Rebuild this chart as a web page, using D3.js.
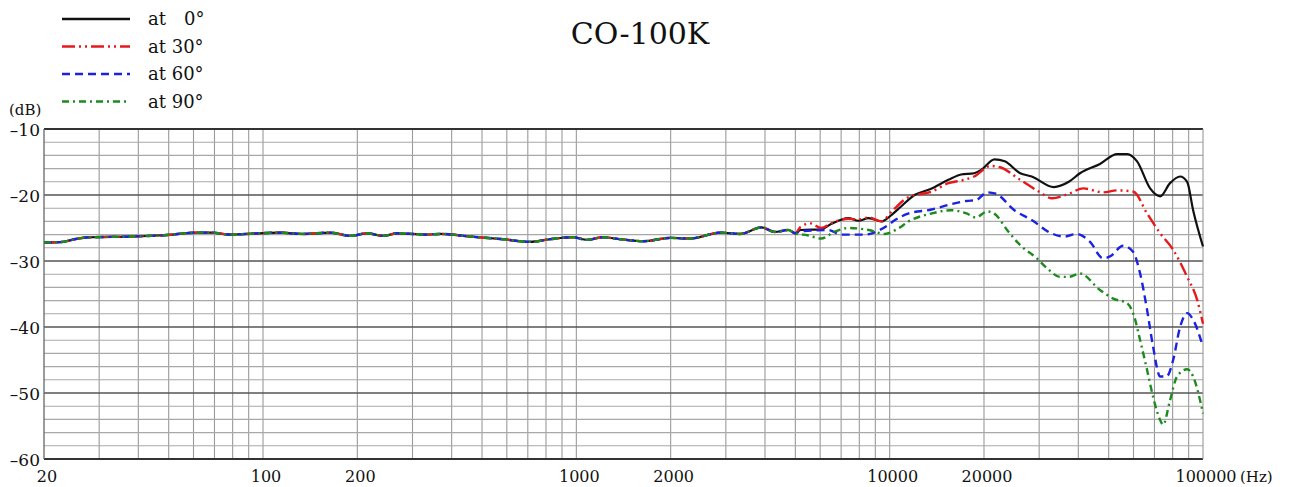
<!DOCTYPE html>
<html lang="en">
<head>
<meta charset="UTF-8">
<title>CO-100K</title>
<script src="https://d3js.org/d3.v7.min.js"></script>
<style>
  html, body { margin: 0; padding: 0; background: #fff; }
  svg text { font-family: "DejaVu Serif", serif; fill: #111; }
</style>
</head>
<body>
<svg id="chart" width="1291" height="487"></svg>
<script>
// shared low-frequency response (all angles overlap here)
const commonFreq = [20, 23, 25, 28, 37, 48, 62, 68, 79, 89, 113, 134, 164, 190, 215, 242, 268, 333, 369, 459,
  583, 712, 824, 977, 1080, 1215, 1380, 1635, 1995, 2310, 2880, 3330, 3900, 4300, 4750, 5000];
const commonDb = [-27.2, -27.1, -26.7, -26.4, -26.3, -26.1, -25.7, -25.7, -26.0, -25.9, -25.7, -25.9, -25.7, -26.2, -25.8, -26.2, -25.8, -26.0, -25.9, -26.3,
  -26.7, -27.1, -26.7, -26.4, -26.8, -26.4, -26.7, -27.0, -26.5, -26.6, -25.7, -25.9, -24.9, -25.6, -25.3, -25.8];

// high-frequency part of each angle
const freq0 = [5200, 6040, 6500, 7380, 7950, 8570, 9420, 10150, 10900, 12000, 13500, 15400, 16900, 18600, 19600, 21600, 23300,
  26100, 28400, 33400, 37300, 40500, 46900, 53200, 57300, 61600, 67800, 73000, 78500, 84500, 89000, 93000, 100000];
const db0 = [-25.3, -25.2, -24.4, -23.5, -23.9, -23.5, -24.0, -23.0, -21.7, -20.0, -19.1, -17.7, -16.9, -16.7, -16.2, -14.6, -14.9,
  -16.7, -17.2, -18.8, -18.0, -16.7, -15.3, -13.8, -13.8, -14.9, -19.0, -20.2, -18.2, -17.2, -18.0, -22.3, -27.8];

const freq30 = [5200, 5600, 6040, 6500, 7380, 7950, 8570, 9420, 10150, 11500, 13600, 15400, 17300, 18600, 21000, 22500,
  26100, 30000, 33000, 37300, 41500, 48000, 53200, 60000, 66300, 73000, 80300, 89000, 95800, 100000];
const db30 = [-24.8, -24.3, -25.0, -24.3, -23.6, -23.7, -23.4, -24.0, -22.5, -20.3, -19.5, -18.2, -17.7, -17.2, -15.6, -15.8,
  -17.7, -19.5, -20.5, -19.8, -19.0, -19.6, -19.3, -19.5, -22.8, -25.8, -28.3, -32.4, -35.9, -39.5];

const freq60 = [5200, 6360, 7000, 8320, 9300, 9920, 10400, 11500, 13600, 15400, 17600, 18800, 20500, 21800, 25000, 28400,
  32800, 36000, 39500, 43600, 48000, 50500, 55600, 59800, 63000, 66300, 69300, 73000, 76500, 80300, 84500, 89000, 93000, 100000];
const db60 = [-25.5, -25.3, -26.0, -26.0, -25.3, -24.5, -23.8, -22.8, -22.2, -21.5, -20.9, -20.8, -19.6, -19.8, -22.3, -23.8,
  -25.8, -26.3, -25.9, -27.1, -29.6, -29.3, -27.7, -28.6, -31.9, -37.4, -43.0, -47.5, -47.5, -45.0, -40.0, -37.9, -38.9, -43.0];

const freq90 = [5470, 6040, 6650, 7380, 8570, 9660, 10700, 11500, 13600, 15700, 17600, 18800, 20500, 21800, 23700, 26100,
  29500, 31800, 35000, 37300, 40500, 46900, 51700, 57300, 60300, 63000, 66300, 69300, 73000, 74600, 78500, 82600, 89000, 93000, 100000];
const db90 = [-26.1, -26.6, -25.6, -25.0, -25.3, -25.9, -25.0, -24.0, -22.8, -22.3, -22.8, -23.4, -22.5, -23.0, -25.3, -27.6,
  -29.6, -31.1, -32.4, -32.4, -31.9, -34.4, -35.7, -36.4, -38.4, -42.0, -46.5, -50.6, -54.1, -54.8, -51.1, -47.5, -46.4, -47.5, -53.1];

const seriesNames = ["at\u2002\u20020°", "at 30°", "at 60°", "at 90°"];
const seriesColors = ["#111111", "#e8191b", "#1b22e0", "#1d8a1d"];
const seriesDash = [null, "13,4,2,4,2,4", "8,5", "7,4,2,4"];

const xTicks = [20, 100, 200, 1000, 2000, 10000, 20000, 100000];
const yTicks = [-10, -20, -30, -40, -50, -60];

const margin = { left: 44, right: 88, top: 129, bottom: 28 };
const width = 1291, height = 487;
const svg = d3.select("#chart");

const x = d3.scaleLog().domain([20, 100000]).range([margin.left, width - margin.right]);
const y = d3.scaleLinear().domain([-60, -10]).range([height - margin.bottom, margin.top]);

// grid: vertical lines on 1..9 x decade
const vLines = [];
for (let d = 10; d <= 10000; d *= 10) {
  for (let k = 1; k <= 9; k++) {
    const f = d * k;
    if (f > 20 && f < 100000) vLines.push(f);
  }
}
const grid = svg.append("g");
grid.selectAll("line.v").data(vLines).enter().append("line")
  .attr("x1", d => x(d)).attr("x2", d => x(d))
  .attr("y1", y(-10)).attr("y2", y(-60))
  .attr("stroke", "#9a9a9a").attr("stroke-width", 1.1);

const hMinor = d3.range(-58, -10, 2).filter(v => v % 10 !== 0);
grid.selectAll("line.h").data(hMinor).enter().append("line")
  .attr("x1", x(20)).attr("x2", x(100000))
  .attr("y1", d => y(d)).attr("y2", d => y(d))
  .attr("stroke", "#a8a8a8").attr("stroke-width", 1.1);

grid.selectAll("line.major").data(yTicks).enter().append("line")
  .attr("x1", x(20)).attr("x2", x(100000))
  .attr("y1", d => y(d)).attr("y2", d => y(d))
  .attr("stroke", d => (d === -10 || d === -60) ? "#333" : "#555")
  .attr("stroke-width", d => (d === -10 || d === -60) ? 2 : 1.5);

grid.append("line")
  .attr("x1", x(20)).attr("x2", x(20)).attr("y1", y(-10)).attr("y2", y(-60))
  .attr("stroke", "#666").attr("stroke-width", 1.3);
grid.append("line")
  .attr("x1", x(100000)).attr("x2", x(100000)).attr("y1", y(-10)).attr("y2", y(-60))
  .attr("stroke", "#999").attr("stroke-width", 1.1);

// y tick labels
svg.append("g").selectAll("text").data(yTicks).enter().append("text")
  .attr("x", 40).attr("y", d => y(d) + 7)
  .attr("text-anchor", "end")
  .style("font-size", "17px")
  .text(d => "\u2013" + Math.abs(d));
svg.append("text").attr("x", 9).attr("y", 115).style("font-size", "15px").text("(dB)");

// x tick labels
svg.append("g").selectAll("text").data(xTicks).enter().append("text")
  .attr("x", d => x(d) + 3).attr("y", 482)
  .attr("text-anchor", "middle")
  .style("font-size", "16px")
  .text(d => d);
svg.append("text").attr("x", 1240).attr("y", 482).style("font-size", "15px").text("(Hz)");

// title
svg.append("text").attr("x", 640).attr("y", 44).attr("text-anchor", "middle")
  .style("font-size", "30px").text("CO-100K");

// curves
const line = d3.line()
  .x(d => x(d[0])).y(d => y(d[1]))
  .curve(d3.curveMonotoneX);

function build(fr, db) {
  const pts = commonFreq.map((f, i) => [f, commonDb[i]]);
  return pts.concat(fr.map((f, i) => [f, db[i]]));
}
const series = [build(freq0, db0), build(freq30, db30), build(freq60, db60), build(freq90, db90)];

svg.append("g").selectAll("path").data(series).enter().append("path")
  .attr("d", line)
  .attr("fill", "none")
  .attr("stroke", (d, i) => seriesColors[i])
  .attr("stroke-width", (d, i) => i === 0 ? 2.2 : 2.4)
  .attr("stroke-dasharray", (d, i) => seriesDash[i]);

// legend
const legend = svg.append("g");
seriesNames.forEach((name, i) => {
  const ly = 19 + i * 27.5;
  legend.append("line")
    .attr("x1", 62).attr("x2", 130).attr("y1", ly).attr("y2", ly)
    .attr("stroke", seriesColors[i]).attr("stroke-width", 2.4)
    .attr("stroke-dasharray", seriesDash[i]);
  legend.append("text").attr("x", 148).attr("y", ly + 6)
    .style("font-size", "18px").text(name);
});
</script>
</body>
</html>
